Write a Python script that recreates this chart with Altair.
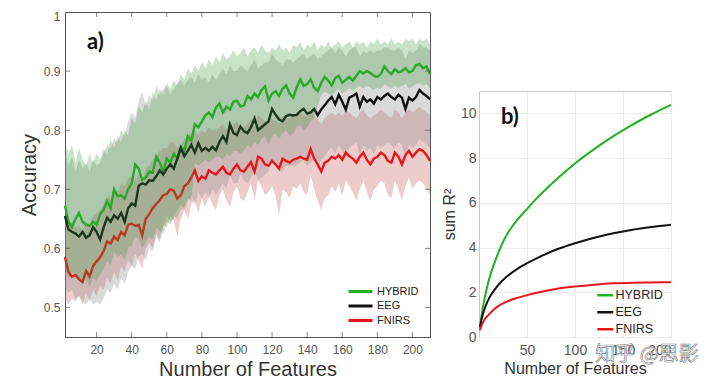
import altair as alt
import pandas as pd

FONT = "Liberation Sans"

# ---------------- panel a data ----------------
features = list(range(2, 212, 2))
series_names = ["HYBRID", "EEG", "FNIRS"]
line_colors = ["#22b022", "#111111", "#e8161b"]

hybrid_mean = [
    .672, .645, .636, .65, .66, .645, .64, .638, .645, .64,
    .658, .665, .68, .668, .70, .688, .69, .684, .70, .71,
    .742, .735, .716, .72, .73, .728, .755, .745, .73, .752,
    .745, .76, .752, .772, .765, .79, .782, .81, .805, .815,
    .825, .83, .822, .838, .845, .83, .84, .835, .848, .85,
    .84, .842, .858, .852, .862, .856, .868, .874, .85, .862,
    .866, .858, .87, .876, .862, .855, .872, .886, .875, .878,
    .886, .872, .866, .88, .89, .884, .876, .888, .892, .88,
    .885, .89, .884, .892, .9, .896, .9, .897, .892, .89,
    .895, .908, .9, .895, .903, .898, .9, .905, .898, .9,
    .91, .912, .905, .908, .895]
hybrid_hi = [
    .78, .76, .775, .745, .77, .75, .74, .76, .745, .76,
    .75, .77, .76, .785, .77, .79, .78, .80, .79, .82,
    .81, .84, .83, .85, .835, .865, .85, .87, .86, .88,
    .87, .885, .875, .895, .885, .905, .895, .91, .90, .915,
    .905, .92, .91, .925, .915, .93, .92, .925, .935, .925,
    .93, .94, .925, .935, .94, .93, .945, .935, .93, .94,
    .935, .945, .935, .94, .93, .945, .94, .95, .935, .945,
    .94, .95, .935, .945, .94, .95, .94, .945, .95, .94,
    .945, .95, .94, .95, .945, .95, .94, .95, .945, .955,
    .945, .95, .945, .955, .945, .95, .945, .955, .95, .955,
    .945, .955, .95, .955, .945]
hybrid_lo = [
    .565, .55, .56, .55, .545, .54, .55, .535, .55, .545,
    .555, .565, .58, .57, .595, .585, .59, .58, .60, .605,
    .62, .615, .60, .61, .62, .615, .635, .63, .625, .645,
    .64, .655, .65, .665, .67, .685, .68, .745, .74, .745,
    .75, .745, .75, .755, .755, .75, .76, .755, .765, .765,
    .76, .765, .775, .77, .78, .775, .785, .79, .775, .79,
    .795, .785, .795, .80, .79, .795, .805, .81, .80, .805,
    .815, .82, .84, .86, .865, .862, .858, .865, .87, .862,
    .865, .872, .866, .872, .875, .87, .875, .872, .868, .872,
    .87, .878, .874, .87, .876, .872, .875, .878, .87, .874,
    .878, .88, .875, .878, .87]

eeg_mean = [
    .655, .632, .628, .625, .62, .628, .618, .622, .636, .628,
    .615, .635, .652, .645, .656, .65, .66, .645, .668, .676,
    .672, .706, .71, .708, .715, .714, .722, .732, .725, .735,
    .742, .735, .752, .77, .756, .765, .775, .762, .778, .765,
    .77, .765, .772, .766, .78, .79, .78, .81, .795, .792,
    .806, .798, .795, .805, .82, .80, .805, .81, .815, .836,
    .826, .818, .815, .824, .826, .825, .826, .832, .836, .828,
    .83, .836, .825, .835, .842, .85, .856, .844, .86, .848,
    .835, .855, .858, .862, .84, .856, .848, .852, .845, .856,
    .852, .858, .862, .856, .852, .86, .855, .836, .855, .85,
    .856, .868, .862, .858, .852]
eeg_hi = [
    .76, .74, .755, .73, .75, .735, .745, .73, .75, .74,
    .745, .76, .775, .77, .785, .78, .80, .79, .815, .83,
    .82, .85, .865, .84, .86, .85, .875, .86, .87, .875,
    .86, .87, .88, .885, .875, .885, .89, .88, .895, .885,
    .89, .88, .895, .885, .895, .905, .895, .91, .90, .90,
    .91, .905, .90, .91, .92, .905, .91, .915, .915, .93,
    .92, .915, .91, .92, .92, .915, .92, .925, .93, .92,
    .925, .93, .92, .925, .93, .935, .94, .93, .94, .935,
    .925, .935, .94, .94, .925, .935, .93, .935, .93, .935,
    .935, .94, .94, .935, .935, .94, .935, .92, .935, .93,
    .935, .945, .94, .94, .935]
eeg_lo = [
    .535, .525, .53, .515, .52, .51, .505, .515, .505, .51,
    .505, .515, .53, .525, .54, .53, .55, .54, .56, .57,
    .565, .585, .59, .58, .60, .595, .62, .61, .635, .655,
    .645, .65, .665, .675, .665, .68, .69, .675, .695, .685,
    .695, .685, .70, .69, .70, .71, .70, .725, .71, .71,
    .725, .715, .71, .72, .735, .715, .72, .725, .73, .75,
    .74, .73, .73, .74, .74, .74, .74, .745, .75, .74,
    .745, .75, .74, .75, .755, .765, .77, .76, .775, .765,
    .75, .77, .775, .78, .755, .775, .765, .77, .76, .775,
    .77, .775, .78, .775, .77, .78, .775, .755, .775, .77,
    .775, .785, .78, .775, .77]

fnirs_mean = [
    .585, .56, .552, .555, .548, .543, .562, .552, .57, .578,
    .585, .595, .612, .608, .62, .614, .628, .622, .64, .642,
    .638, .64, .622, .65, .658, .668, .675, .682, .69, .692,
    .70, .698, .684, .69, .705, .71, .72, .732, .714, .722,
    .718, .732, .728, .725, .732, .738, .728, .725, .735, .742,
    .732, .73, .738, .746, .73, .755, .752, .742, .74, .748,
    .742, .735, .752, .748, .745, .75, .752, .755, .752, .75,
    .768, .752, .742, .73, .745, .748, .755, .752, .758, .75,
    .762, .756, .752, .745, .755, .762, .75, .742, .752, .755,
    .762, .758, .748, .745, .762, .755, .742, .758, .765, .755,
    .762, .768, .765, .758, .748]
fnirs_hi = [
    .655, .64, .645, .635, .64, .63, .645, .64, .655, .66,
    .665, .675, .69, .685, .70, .695, .71, .705, .72, .72,
    .715, .725, .71, .735, .74, .75, .755, .765, .77, .77,
    .78, .78, .77, .775, .785, .79, .795, .80, .79, .80,
    .795, .805, .80, .80, .805, .81, .80, .80, .81, .815,
    .805, .805, .81, .82, .805, .825, .82, .815, .815, .82,
    .815, .81, .825, .82, .82, .825, .825, .83, .825, .825,
    .835, .825, .82, .81, .82, .825, .83, .825, .83, .825,
    .835, .83, .825, .82, .83, .835, .825, .82, .825, .83,
    .835, .83, .825, .82, .835, .83, .82, .83, .835, .83,
    .835, .84, .835, .83, .825]
fnirs_lo = [
    .515, .505, .515, .51, .52, .505, .525, .51, .53, .52,
    .535, .53, .55, .54, .56, .545, .57, .56, .58, .57,
    .59, .58, .565, .60, .61, .60, .625, .615, .64, .635,
    .655, .645, .62, .65, .665, .65, .675, .68, .66, .685,
    .67, .69, .675, .665, .69, .70, .68, .67, .695, .705,
    .685, .68, .695, .71, .68, .715, .705, .69, .695, .705,
    .69, .655, .70, .695, .685, .705, .70, .71, .695, .69,
    .725, .70, .68, .665, .685, .69, .705, .695, .71, .69,
    .715, .705, .695, .68, .70, .715, .695, .68, .70, .705,
    .715, .71, .69, .685, .715, .70, .68, .705, .72, .70,
    .71, .715, .71, .70, .69]

acc_x_ticks = [20, 40, 60, 80, 100, 120, 140, 160, 180, 200]
acc_y_ticks = [0.5, 0.6, 0.7, 0.8, 0.9, 1.0]

# ---------------- panel b data ----------------
r2_features = [1, 3, 5, 8, 12, 16, 20, 25, 30, 40, 50, 60, 70, 80, 90, 100, 120, 140, 160, 180, 200]
r2_hybrid = [0.4, 1.05, 1.55, 2.15, 2.8, 3.3, 3.75, 4.25, 4.65, 5.25, 5.72, 6.2, 6.62, 7.02, 7.4, 7.76, 8.4, 8.98, 9.5, 9.96, 10.38]
r2_eeg = [0.45, 0.85, 1.15, 1.5, 1.85, 2.1, 2.32, 2.55, 2.74, 3.05, 3.3, 3.52, 3.72, 3.9, 4.05, 4.19, 4.44, 4.64, 4.8, 4.92, 5.02]
r2_fnirs = [0.3, 0.55, 0.72, 0.9, 1.08, 1.25, 1.38, 1.5, 1.6, 1.75, 1.87, 1.98, 2.07, 2.15, 2.21, 2.26, 2.34, 2.4, 2.43, 2.44, 2.45]
r2_x_ticks = [50, 100, 150, 200]
r2_y_ticks = [0, 2, 4, 6, 8, 10]

# ---------------- tables ----------------
band_df = pd.DataFrame({
    "f": features,
    "h_lo": hybrid_lo, "h_hi": hybrid_hi,
    "e_lo": eeg_lo, "e_hi": eeg_hi,
    "n_lo": fnirs_lo, "n_hi": fnirs_hi,
})
acc_df = pd.concat([
    pd.DataFrame({"f": features, "acc": vals, "series": name})
    for name, vals in zip(series_names, [hybrid_mean, eeg_mean, fnirs_mean])
])
r2_df = pd.concat([
    pd.DataFrame({"f": r2_features, "r2": vals, "series": name})
    for name, vals in zip(series_names, [r2_hybrid, r2_eeg, r2_fnirs])
])
xt_df = pd.DataFrame({"v": acc_x_ticks})
yt_df = pd.DataFrame({"v": acc_y_ticks})

color_scale = alt.Scale(domain=series_names, range=line_colors)
LEGEND_SYMBOL = "M-3,0H1"  # short horizontal stroke, drawn left of the label

# ---------------- panel a ----------------
WA, HA = 365, 325
xs_a = alt.Scale(domain=[2, 210], nice=False, zero=False)
ys_a = alt.Scale(domain=[0.45, 1.0], nice=False, zero=False)
x_axis_a = alt.Axis(values=acc_x_ticks, title="Number of Features", ticks=False, domain=False,
                    grid=False, labelFontSize=12, titleFontSize=20, labelPadding=7, titlePadding=4)
y_axis_a = alt.Axis(values=acc_y_ticks, title="Accuracy", ticks=False, domain=False, grid=False,
                    labelFontSize=12, titleFontSize=20, labelPadding=5, titlePadding=4,
                    labelFlush=True, labelFlushOffset=1,
                    labelExpr="datum.value == 1 ? '1' : format(datum.value, '.1f')")

base_band = alt.Chart(band_df)


def band(lo, hi, fill, op):
    return base_band.mark_area(fill=fill, opacity=op).encode(
        x=alt.X("f:Q", scale=xs_a, axis=x_axis_a),
        y=alt.Y(f"{hi}:Q", scale=ys_a, axis=y_axis_a),
        y2=alt.Y2(f"{lo}:Q"),
    )


band_n = band("n_lo", "n_hi", "#c04848", 0.28)
band_e = band("e_lo", "e_hi", "#8c8c8c", 0.32)
band_h = band("h_lo", "h_hi", "#3a9a3a", 0.28)

lines_a = alt.Chart(acc_df).mark_line(strokeWidth=2.4).encode(
    x=alt.X("f:Q", scale=xs_a, axis=x_axis_a),
    y=alt.Y("acc:Q", scale=ys_a, axis=y_axis_a),
    color=alt.Color("series:N", scale=color_scale,
                    legend=alt.Legend(title=None, orient="none", legendX=294, legendY=272,
                                      symbolType=LEGEND_SYMBOL, symbolStrokeWidth=3, symbolSize=144,
                                      labelFontSize=11, labelColor="#222", labelFont=FONT,
                                      rowPadding=0.5, labelOffset=3, padding=0)),
    detail="series:N",
)

tick_style = dict(color="#555", thickness=1, size=10, clip=True)
ticks_bottom = alt.Chart(xt_df).mark_tick(orient="vertical", **tick_style).encode(
    x=alt.X("v:Q", scale=xs_a, axis=x_axis_a), y=alt.value(HA))
ticks_top = alt.Chart(xt_df).mark_tick(orient="vertical", **tick_style).encode(
    x=alt.X("v:Q", scale=xs_a, axis=x_axis_a), y=alt.value(0))
ticks_left = alt.Chart(yt_df).mark_tick(orient="horizontal", **tick_style).encode(
    y=alt.Y("v:Q", scale=ys_a, axis=y_axis_a), x=alt.value(0))
ticks_right = alt.Chart(yt_df).mark_tick(orient="horizontal", **tick_style).encode(
    y=alt.Y("v:Q", scale=ys_a, axis=y_axis_a), x=alt.value(WA))

label_a = alt.Chart(pd.DataFrame({"t": ["a)"]})).mark_text(
    fontSize=22, fontWeight="bold", font="Lato", color="#111", align="left", baseline="middle"
).encode(text="t:N", x=alt.value(22), y=alt.value(30))

panel_a = alt.layer(
    band_n, band_e, lines_a, band_h,
    ticks_bottom, ticks_top, ticks_left, ticks_right, label_a,
).properties(width=WA, height=HA, view=alt.ViewBackground(stroke="#555", strokeWidth=1))

# ---------------- panel b ----------------
WB, HB = 192, 246
xs_b = alt.Scale(domain=[0, 200], nice=False, zero=False)
ys_b = alt.Scale(domain=[0, 11], nice=False)
lines_b = alt.Chart(r2_df).mark_line(strokeWidth=2, interpolate="monotone").encode(
    x=alt.X("f:Q", scale=xs_b,
            axis=alt.Axis(values=r2_x_ticks, title="Number of Features", ticks=False, domain=False,
                          grid=True, gridColor="#ececec", labelFontSize=14, titleFontSize=16,
                          labelPadding=6, titlePadding=3)),
    y=alt.Y("r2:Q", scale=ys_b,
            axis=alt.Axis(values=r2_y_ticks, title="sum R²", ticks=False, domain=False,
                          grid=True, gridColor="#ececec", labelFontSize=14, titleFontSize=16,
                          labelPadding=3, titlePadding=3)),
    color=alt.Color("series:N", scale=color_scale,
                    legend=alt.Legend(title=None, orient="none", legendX=124, legendY=198,
                                      symbolType=LEGEND_SYMBOL, symbolStrokeWidth=2.5, symbolSize=64,
                                      labelFontSize=12.5, labelColor="#222", labelFont=FONT,
                                      rowPadding=4, labelOffset=0, padding=0)),
    detail="series:N",
)
label_b = alt.Chart(pd.DataFrame({"t": ["b)"]})).mark_text(
    fontSize=22, fontWeight="bold", font="Lato", color="#111", align="left", baseline="middle"
).encode(text="t:N", x=alt.value(22), y=alt.value(26))
watermark = alt.Chart(pd.DataFrame({"t": ["知乎 @思影"]})).mark_text(
    fontSize=20, font="Noto Sans CJK SC", fill="white", fillOpacity=0.85, stroke="#8a8a8a",
    strokeWidth=0.7, align="center", baseline="middle"
).encode(text="t:N", x=alt.value(168), y=alt.value(264))

panel_b = alt.layer(lines_b, label_b, watermark).properties(
    width=WB, height=HB, view=alt.ViewBackground(stroke="#c8c8c8", strokeWidth=1))

spacer = alt.Chart(pd.DataFrame({"a": [0]})).mark_point(size=1, opacity=0, strokeWidth=0).encode(
    x=alt.value(10), y=alt.value(10)
).properties(width=WB, height=77, view=alt.ViewBackground(stroke="transparent"))

right_col = alt.vconcat(spacer, panel_b, spacing=0).resolve_legend(color="independent")

chart = alt.hconcat(panel_a, right_col, spacing=4).resolve_legend(
    color="independent"
).properties(
    padding={"left": 10, "top": 1, "right": 0, "bottom": 0},
    background="white",
).configure_axis(
    labelFont=FONT, titleFont=FONT, labelColor="#555", titleColor="#333", titleFontWeight="normal"
)

chart.save("out.html", embed_options={"renderer": "svg", "actions": False})
